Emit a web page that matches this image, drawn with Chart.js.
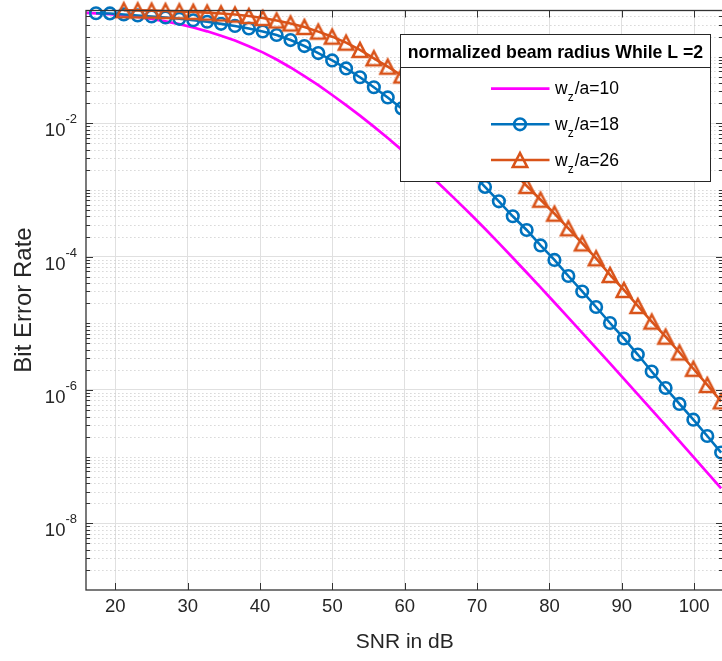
<!DOCTYPE html>
<html>
<head>
<meta charset="utf-8">
<script src="https://cdn.jsdelivr.net/npm/chart.js@4.4.0/dist/chart.umd.min.js"></script>
<style>
  html, body { margin: 0; padding: 0; background: #fff; overflow: hidden; }
  #wrap { width: 740px; height: 661px; }
</style>
</head>
<body>
<div id="wrap"><canvas id="berChart" width="740" height="661"></canvas></div>
<script>
// SNR points (dB) for the marked curves
const snr = [17.33, 19.25, 21.17, 23.09, 25.01, 26.93, 28.85, 30.77, 32.69, 34.61,
  36.53, 38.45, 40.37, 42.29, 44.21, 46.13, 48.05, 49.97, 51.89, 53.81,
  55.73, 57.65, 59.57, 61.49, 63.41, 65.33, 67.25, 69.17, 71.09, 73.01,
  74.93, 76.85, 78.77, 80.69, 82.61, 84.53, 86.45, 88.37, 90.29, 92.21,
  94.13, 96.05, 97.97, 99.89, 101.81, 103.73];

// the w_z/a = 10 curve starts right at the left edge
const snr10 = [16, ...snr];

// BER for w_z/a = 10
const ber10 = [0.452, 0.4436, 0.4317, 0.4143, 0.3922, 0.3661, 0.3373, 0.3064, 0.2733, 0.2394, 0.2060,
  0.1740, 0.1435, 0.1158, 0.0903, 0.0687, 0.0510, 0.0372, 0.02656, 0.01872, 0.01300,
  0.00890, 0.00600, 0.00399, 0.00262, 0.001692, 0.001078, 6.80e-4, 4.25e-4, 2.614e-4, 1.591e-4,
  9.61e-5, 5.78e-5, 3.455e-5, 2.053e-5, 1.218e-5, 7.20e-6, 4.25e-6, 2.503e-6, 1.469e-6, 8.61e-7,
  5.03e-7, 2.935e-7, 1.708e-7, 9.93e-8, 5.76e-8, 3.345e-8];

// BER for w_z/a = 18
const ber18 = [0.447, 0.444, 0.429, 0.414, 0.400, 0.386, 0.369, 0.351, 0.333, 0.310,
  0.288, 0.264, 0.238, 0.211, 0.177, 0.144, 0.113, 0.0875, 0.0664, 0.0490,
  0.0347, 0.0244, 0.0167, 0.0112, 0.00728, 0.00465, 0.00291, 0.00183, 0.00111, 6.76e-4,
  4.03e-4, 2.51e-4, 1.47e-4, 8.91e-5, 5.125e-5, 3.00e-5, 1.756e-5, 1.011e-5, 5.92e-6, 3.40e-6,
  1.89e-6, 1.07e-6, 6.17e-7, 3.58e-7, 2.04e-7, 1.15e-7];

// BER for w_z/a = 26 (first two points sit above the axis limit)
const ber26 = [null, null, 0.496, 0.493, 0.489, 0.483, 0.477, 0.469, 0.457, 0.444,
  0.427, 0.406, 0.379, 0.348, 0.314, 0.278, 0.237, 0.199, 0.162, 0.126,
  0.0944, 0.0706, 0.0521, 0.0362, 0.0252, 0.0173, 0.0116, 0.00759, 0.00486, 0.00306,
  0.00189, 0.00115, 7.14e-4, 4.41e-4, 2.66e-4, 1.58e-4, 9.44e-5, 5.31e-5, 3.16e-5, 1.82e-5,
  1.06e-5, 6.30e-6, 3.65e-6, 2.08e-6, 1.19e-6, 6.76e-7];

const ratios = ['10', '18', '26'];
const xTicks = [20, 30, 40, 50, 60, 70, 80, 90, 100];
const yTicks = [1e-8, 1e-6, 1e-4, 1e-2];
const legendTitle = 'normalized beam radius While L =2';

const AXIS = '#262626';
const FONT = '"Liberation Sans", Arial, Helvetica, sans-serif';
const colors = ['#FF00FF', '#0072BD', '#D95319'];

function triangleMarker(color) {
  const c = document.createElement('canvas');
  c.width = 26; c.height = 26;
  const g = c.getContext('2d');
  g.strokeStyle = color;
  g.lineWidth = 2.6;
  g.beginPath();
  g.moveTo(13, 6);
  g.lineTo(20.2, 20);
  g.lineTo(5.8, 20);
  g.closePath();
  g.stroke();
  return c;
}
const tri = triangleMarker(colors[2]);

const pts = (xs, arr) => xs.map((x, i) => ({ x: x, y: arr[i] }));

// minor log grid: 2..9 x 10^k plus the odd decades
function minorValues() {
  const out = [];
  for (let e = -9; e <= -1; e++) {
    for (let m = 1; m <= 9; m++) {
      const v = m * Math.pow(10, e);
      if (v <= 1e-9 * 1.0001 || v >= 0.5) continue;
      if (m === 1 && e % 2 === 0) continue;
      out.push(v);
    }
  }
  return out;
}

function hline(ctx, x0, x1, y) {
  ctx.beginPath(); ctx.moveTo(x0, y); ctx.lineTo(x1, y); ctx.stroke();
}
function vline(ctx, x, y0, y1) {
  ctx.beginPath(); ctx.moveTo(x, y0); ctx.lineTo(x, y1); ctx.stroke();
}

const matlabAxes = {
  id: 'matlabAxes',
  beforeDatasetsDraw(chart) {
    const { ctx, chartArea: a, scales: { y } } = chart;
    ctx.save();
    ctx.strokeStyle = '#c2c2c2';
    ctx.lineWidth = 1;
    ctx.setLineDash([1, 3]);
    minorValues().forEach(v => {
      hline(ctx, a.left, a.right, Math.round(y.getPixelForValue(v)) + 0.5);
    });
    ctx.restore();
  },
  afterDatasetsDraw(chart) {
    const { ctx, chartArea: a, scales: { x, y } } = chart;
    ctx.save();
    ctx.strokeStyle = '#333';
    ctx.lineWidth = 1.3;
    const L = Math.round(a.left), R = Math.round(a.right);
    const T = Math.round(a.top) + 0.5, B = Math.round(a.bottom);
    ctx.strokeRect(L, T, R - L, B - T);

    // tick marks point inward
    ctx.lineWidth = 1;
    xTicks.forEach(v => {
      const px = Math.round(x.getPixelForValue(v)) + 0.5;
      vline(ctx, px, B, B - 7);
      vline(ctx, px, T, T + 7);
    });
    yTicks.forEach(v => {
      const py = Math.round(y.getPixelForValue(v)) + 0.5;
      hline(ctx, L, L + 7, py);
      hline(ctx, R, R - 7, py);
    });
    minorValues().forEach(v => {
      const py = Math.round(y.getPixelForValue(v)) + 0.5;
      hline(ctx, L, L + 4, py);
      hline(ctx, R, R - 4, py);
    });

    // tick labels
    ctx.fillStyle = AXIS;
    ctx.textBaseline = 'alphabetic';
    ctx.textAlign = 'center';
    ctx.font = '18.5px ' + FONT;
    xTicks.forEach(v => ctx.fillText(String(v), x.getPixelForValue(v), 612));

    yTicks.forEach(v => {
      const py = y.getPixelForValue(v);
      const exp = String(Math.round(Math.log10(v)));
      ctx.textAlign = 'left';
      ctx.font = '13px ' + FONT;
      const ew = ctx.measureText(exp).width;
      ctx.font = '18.5px ' + FONT;
      const bw = ctx.measureText('10').width;
      const ex = 77 - ew;
      ctx.fillText('10', ex - bw, py + 13);
      ctx.font = '13px ' + FONT;
      ctx.fillText(exp, ex, py);
    });

    // axis titles
    ctx.textAlign = 'center';
    ctx.font = '21px ' + FONT;
    ctx.fillText('SNR in dB', (a.left + a.right) / 2, 648);
    ctx.save();
    ctx.translate(31, (a.top + a.bottom) / 2);
    ctx.rotate(-Math.PI / 2);
    ctx.font = '24px ' + FONT;
    ctx.fillText('Bit Error Rate', 0, 0);
    ctx.restore();
    ctx.restore();
  },
  afterDraw(chart) {
    const { ctx } = chart;
    const bx = 400.5, by = 34.5, bw = 310, bh = 147;
    ctx.save();
    ctx.fillStyle = '#fff';
    ctx.fillRect(bx, by, bw, bh);
    ctx.strokeStyle = AXIS;
    ctx.lineWidth = 1;
    ctx.strokeRect(bx, by, bw, bh);
    hline(ctx, bx, bx + bw, 67.5);

    ctx.fillStyle = '#000';
    ctx.textAlign = 'center';
    ctx.textBaseline = 'alphabetic';
    ctx.font = 'bold 17.7px ' + FONT;
    ctx.fillText(legendTitle, bx + bw / 2, 58);

    const rows = [88.7, 124.3, 160];
    rows.forEach((ry, i) => {
      const ds = chart.data.datasets[i];
      ctx.strokeStyle = colors[i];
      ctx.lineWidth = ds.borderWidth;
      hline(ctx, 491, 549.5, ry);
      if (i === 1) {
        ctx.lineWidth = 2.6;
        ctx.beginPath();
        ctx.arc(520, ry, 5.8, 0, Math.PI * 2);
        ctx.stroke();
      } else if (i === 2) {
        ctx.drawImage(tri, 520 - 13, ry - 13);
      }
      ctx.fillStyle = '#000';
      ctx.textAlign = 'left';
      let tx = 555;
      ctx.font = '17.5px ' + FONT;
      ctx.fillText('w', tx, ry + 5.5);
      tx += ctx.measureText('w').width;
      ctx.font = '12px ' + FONT;
      ctx.fillText('z', tx, ry + 12.5);
      tx += ctx.measureText('z').width + 1;
      ctx.font = '17.5px ' + FONT;
      ctx.fillText('/a=' + ratios[i], tx, ry + 5.5);
    });
    ctx.restore();
  }
};

new Chart(document.getElementById('berChart'), {
  type: 'line',
  data: {
    datasets: [
      {
        label: 'w_z/a=' + ratios[0],
        data: pts(snr10, ber10),
        borderColor: colors[0],
        borderWidth: 2.7,
        pointRadius: 0,
        clip: false,
        order: 3
      },
      {
        label: 'w_z/a=' + ratios[1],
        data: pts(snr, ber18),
        borderColor: colors[1],
        borderWidth: 2.6,
        pointStyle: 'circle',
        pointRadius: 5.8,
        pointBorderWidth: 2.6,
        pointBorderColor: colors[1],
        pointBackgroundColor: 'rgba(0,0,0,0)',
        clip: false,
        order: 2
      },
      {
        label: 'w_z/a=' + ratios[2],
        data: pts(snr, ber26),
        borderColor: colors[2],
        borderWidth: 2.6,
        pointStyle: tri,
        pointRadius: 7,
        clip: false,
        order: 1
      }
    ]
  },
  options: {
    responsive: false,
    devicePixelRatio: 1,
    animation: false,
    layout: { padding: { top: 10, right: 740 - 723.1, left: 0, bottom: 0 } },
    plugins: { legend: { display: false }, tooltip: { enabled: false } },
    scales: {
      x: {
        type: 'linear',
        min: 16,
        max: 104,
        afterBuildTicks: s => { s.ticks = xTicks.map(v => ({ value: v })); },
        afterFit: s => { s.height = 71; },
        ticks: { display: false },
        grid: { color: '#e0e0e0', lineWidth: 1, drawTicks: false },
        border: { display: false }
      },
      y: {
        type: 'logarithmic',
        min: 1e-9,
        max: 0.5,
        afterBuildTicks: s => { s.ticks = yTicks.map(v => ({ value: v })); },
        afterFit: s => { s.width = 86.4; },
        ticks: { display: false },
        grid: { color: '#e0e0e0', lineWidth: 1, drawTicks: false },
        border: { display: false }
      }
    }
  },
  plugins: [matlabAxes]
});
</script>
</body>
</html>
